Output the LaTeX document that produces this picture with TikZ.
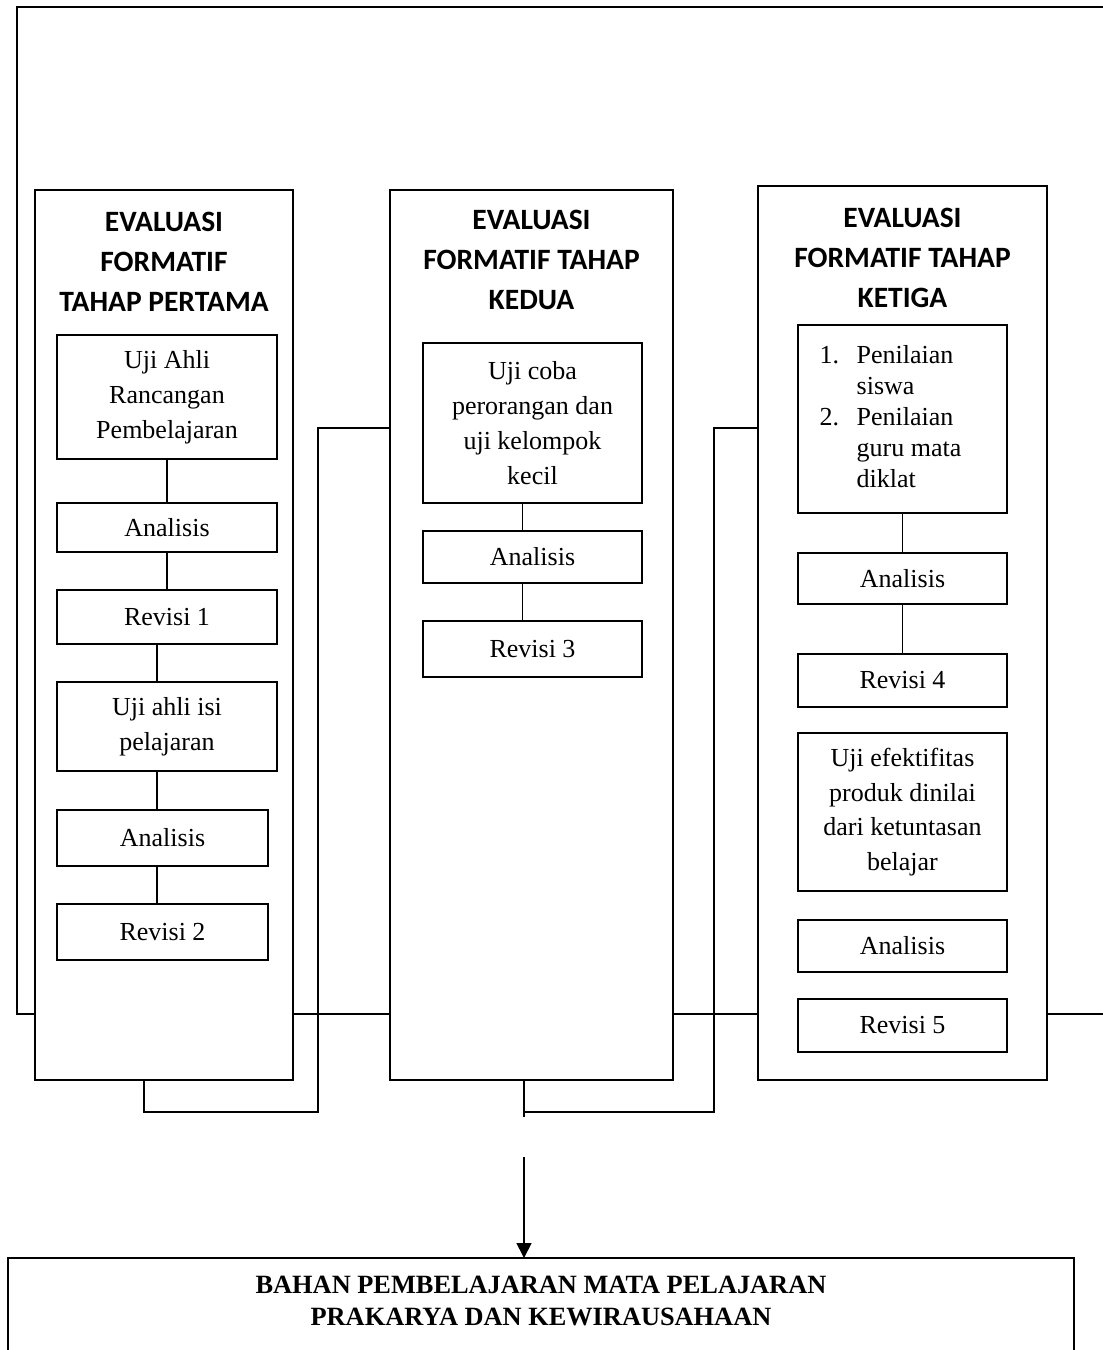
\documentclass[tikz,border=0pt]{standalone}
\usepackage{fontspec}
\setmainfont{Liberation Serif}
\newfontfamily\headfont{Carlito}
\usetikzlibrary{arrows.meta}

\begin{document}
\begin{tikzpicture}[
  x=0.02cm, y=-0.02cm,
  col/.style={draw, inner sep=0pt, outer sep=0pt, minimum height=17.8cm},
  box/.style={draw, inner sep=0pt, outer sep=0pt, minimum width=4.4cm, align=center,
              font=\fontsize{14.8}{19.8}\selectfont},
  head/.style={align=center, inner sep=0pt, font=\headfont\bfseries\fontsize{16.8}{22.7}\selectfont},
  >={Triangle[length=0.3cm,width=0.3cm]}, line width=0.9pt
]
  \useasboundingbox (0,0) rectangle (1103,1350);
  % Stage columns
  \node[col, minimum width=5.16cm] (c1) at (164,635) {};
  \node[col, minimum width=5.66cm] (c2) at (531.5,635) {};
  \node[col, minimum width=5.78cm, minimum height=17.88cm] (c3) at (902.5,633) {};
  \node[head] (h1) at (164,262)   {EVALUASI\\FORMATIF\\TAHAP PERTAMA};
  \node[head] (h2) at (531.5,260) {EVALUASI\\FORMATIF TAHAP\\KEDUA};
  \node[head] (h3) at (902.5,258) {EVALUASI\\FORMATIF TAHAP\\KETIGA};
  % First stage
  \node[box, minimum height=2.48cm] (ua1) at (167,397)   {Uji Ahli\\Rancangan\\Pembelajaran};
  \node[box, minimum height=0.98cm] (an1) at (167,527.5) {Analisis};
  \node[box, minimum height=1.08cm] (rv1) at (167,617)   {Revisi 1};
  \node[box, minimum height=1.78cm] (ua2) at (167,726.5) {Uji ahli isi\\pelajaran};
  \node[box, minimum width=4.22cm, minimum height=1.12cm] (an2) at (162.5,838) {Analisis};
  \node[box, minimum width=4.22cm, minimum height=1.12cm] (rv2) at (162.5,932) {Revisi 2};
  % Second stage
  \node[box, minimum width=4.38cm, minimum height=3.2cm]  (uc)  at (532.5,423) {Uji coba\\perorangan dan\\uji kelompok\\kecil};
  \node[box, minimum width=4.38cm, minimum height=1.04cm] (an3) at (532.5,557) {Analisis};
  \node[box, minimum width=4.38cm, minimum height=1.12cm] (rv3) at (532.5,649) {Revisi 3};
  % Third stage
  \node[box, minimum width=4.18cm, minimum height=3.76cm] (pn) at (902.5,419)
    {\fontsize{14.8}{17.6}\selectfont
     \begin{tabular}{@{}p{0.74cm}@{}l@{\hspace{0.48cm}}}
       1. & Penilaian\\
          & siswa\\
       2. & Penilaian\\
          & guru mata\\
          & diklat
     \end{tabular}};
  \node[box, minimum width=4.18cm, minimum height=1.02cm] (an4) at (902.5,578.5) {Analisis};
  \node[box, minimum width=4.18cm, minimum height=1.06cm] (rv4) at (902.5,680.5) {Revisi 4};
  \node[box, minimum width=4.18cm, minimum height=3.16cm] (ue)  at (902.5,812)   {Uji efektifitas\\produk dinilai\\dari ketuntasan\\belajar};
  \node[box, minimum width=4.18cm, minimum height=1.04cm] (an5) at (902.5,946)   {Analisis};
  \node[box, minimum width=4.18cm, minimum height=1.06cm] (rv5) at (902.5,1025.5) {Revisi 5};
  % Result
  \node[draw, inner sep=0pt, outer sep=0pt, minimum width=21.32cm, minimum height=2.84cm] (bb) at (541,1329) {};
  \node[align=center, font=\bfseries\fontsize{15}{18.1}\selectfont] (bt) at (541,1301)
    {BAHAN PEMBELAJARAN MATA PELAJARAN\\PRAKARYA DAN KEWIRAUSAHAAN};
  % Helper points
  \coordinate (lk) at (0,1014);
  \coordinate (up) at (0,428);
  \coordinate (tl) at (17,7);
  \coordinate (tr) at (1110,7);
  \coordinate (re) at (1110,1014);
  \coordinate (j1) at (318,1112);
  \coordinate (j2) at (714,1112);
  \coordinate (as) at (524,1157);
  \coordinate (b1) at ([xshift=-0.4cm]c1.south);
  \coordinate (b2) at ([xshift=-0.15cm]c2.south);
  % Frame and links between stages
  \draw (c1.west |- lk) -| (tl) -- (tr);
  \draw (c1.east |- lk) -- (c2.west |- lk);
  \draw (c2.east |- lk) -- (c3.west |- lk);
  \draw (c3.east |- lk) -- (re);
  \draw (b1) |- (j1) |- (c2.west |- up);
  \draw (b2) -- ++(0,37);
  \draw (b2 |- j2) -- (j2) |- (c3.west |- up);
  \draw[->] (as) -- (as |- bb.north);
  % Links inside stages
  \draw (ua1) -- (an1);
  \draw (an1) -- (rv1);
  \draw ([xshift=-0.2cm]rv1.south) -- ([xshift=-0.2cm]ua2.north);
  \draw ([xshift=-0.2cm]ua2.south) -- ([xshift=-0.11cm]an2.north);
  \draw ([xshift=-0.11cm]an2.south) -- ([xshift=-0.11cm]rv2.north);
  \draw ([xshift=-0.2cm]uc.south) -- ([xshift=-0.2cm]an3.north);
  \draw ([xshift=-0.2cm]an3.south) -- ([xshift=-0.2cm]rv3.north);
  \draw (pn) -- (an4);
  \draw (an4) -- (rv4);
\end{tikzpicture}
\end{document}
